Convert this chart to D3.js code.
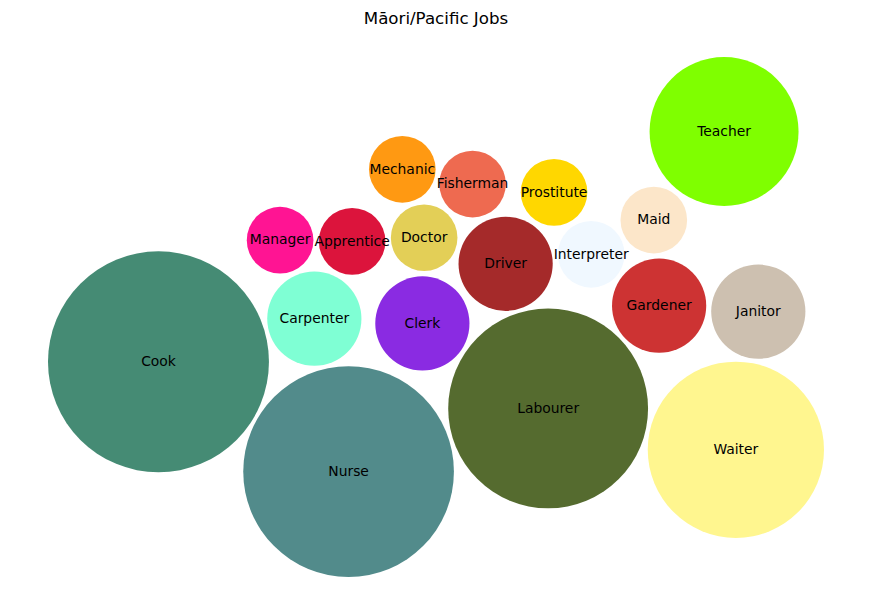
<!DOCTYPE html>
<html>
<head>
<meta charset="utf-8">
<script src="https://cdn.jsdelivr.net/npm/d3@7"></script>
<style>
  body { margin: 0; background: #fff; }
  text { font-family: "DejaVu Sans", sans-serif; fill: #000; }
</style>
</head>
<body>
<div id="chart"></div>
<script>
// job labels and how many times each was mentioned (bubble area ~ count)
const jobs = ['Cook', 'Nurse', 'Labourer', 'Waiter', 'Teacher', 'Carpenter', 'Clerk', 'Driver', 'Gardener',
  'Janitor', 'Manager', 'Apprentice', 'Doctor', 'Mechanic', 'Fisherman', 'Prostitute', 'Interpreter', 'Maid']
const counts = [11, 10, 9, 7, 5, 2, 2, 2, 2, 2, 1, 1, 1, 1, 1, 1, 1, 1]

// packed bubble centres, in the same data units as the radius (r = sqrt(count / pi))
const bubbleX = [-4.70, -1.48, 1.90, 5.08, 4.88, -2.06, -0.23, 1.18, 3.78,
  5.46, -2.64, -1.42, -0.20, -0.57, 0.62, 2.00, 2.63, 3.69]
const bubbleY = [-0.76, -2.62, -1.55, -2.25, 3.14, -0.03, -0.11, 0.90, 0.19,
  0.09, 1.30, 1.28, 1.34, 2.50, 2.25, 2.11, 1.06, 1.64]

const colors = ['#458B74', '#528B8B', '#556B2F', '#FFF68F', '#7FFF00', '#7FFFD4', '#8A2BE2', '#A52A2A', '#CD3333',
  '#CDC0B0', '#FF1493', '#DC143C', '#E3CF57', '#FF9912', '#EE6A50', '#FFD700', '#F0F8FF', '#FCE6C9']

const width = 872
const height = 612
const box = { left: 48, right: 824, top: 57, bottom: 577 }

const data = jobs.map((job, i) => ({
  job,
  count: counts[i],
  x: bubbleX[i],
  y: bubbleY[i],
  r: Math.sqrt(counts[i] / Math.PI),
  color: colors[i]
}))

// equal aspect: one data unit is the same number of pixels on both axes
const xMin = d3.min(data, (d) => d.x - d.r)
const xMax = d3.max(data, (d) => d.x + d.r)
const yMin = d3.min(data, (d) => d.y - d.r)
const yMax = d3.max(data, (d) => d.y + d.r)
const k = Math.min((box.right - box.left) / (xMax - xMin), (box.bottom - box.top) / (yMax - yMin))
const midX = (box.left + box.right) / 2
const midY = (box.top + box.bottom) / 2

const x = d3.scaleLinear()
  .domain([xMin, xMax])
  .range([midX - k * (xMax - xMin) / 2, midX + k * (xMax - xMin) / 2])

const y = d3.scaleLinear()
  .domain([yMin, yMax])
  .range([midY + k * (yMax - yMin) / 2, midY - k * (yMax - yMin) / 2])

const svg = d3.select('#chart').append('svg')
  .attr('width', width)
  .attr('height', height)

svg.append('text')
  .attr('x', width / 2)
  .attr('y', 24)
  .attr('text-anchor', 'middle')
  .style('font-size', '16.67px')
  .text('Māori/Pacific Jobs')

const bubbles = svg.append('g')
  .selectAll('g')
  .data(data)
  .join('g')
  .attr('transform', (d) => `translate(${x(d.x)}, ${y(d.y)})`)

bubbles.append('circle')
  .attr('r', (d) => d.r * k)
  .attr('fill', (d) => d.color)

bubbles.append('text')
  .attr('text-anchor', 'middle')
  .attr('dy', '0.31em')
  .style('font-size', '13.89px')
  .text((d) => d.job)
</script>
</body>
</html>
